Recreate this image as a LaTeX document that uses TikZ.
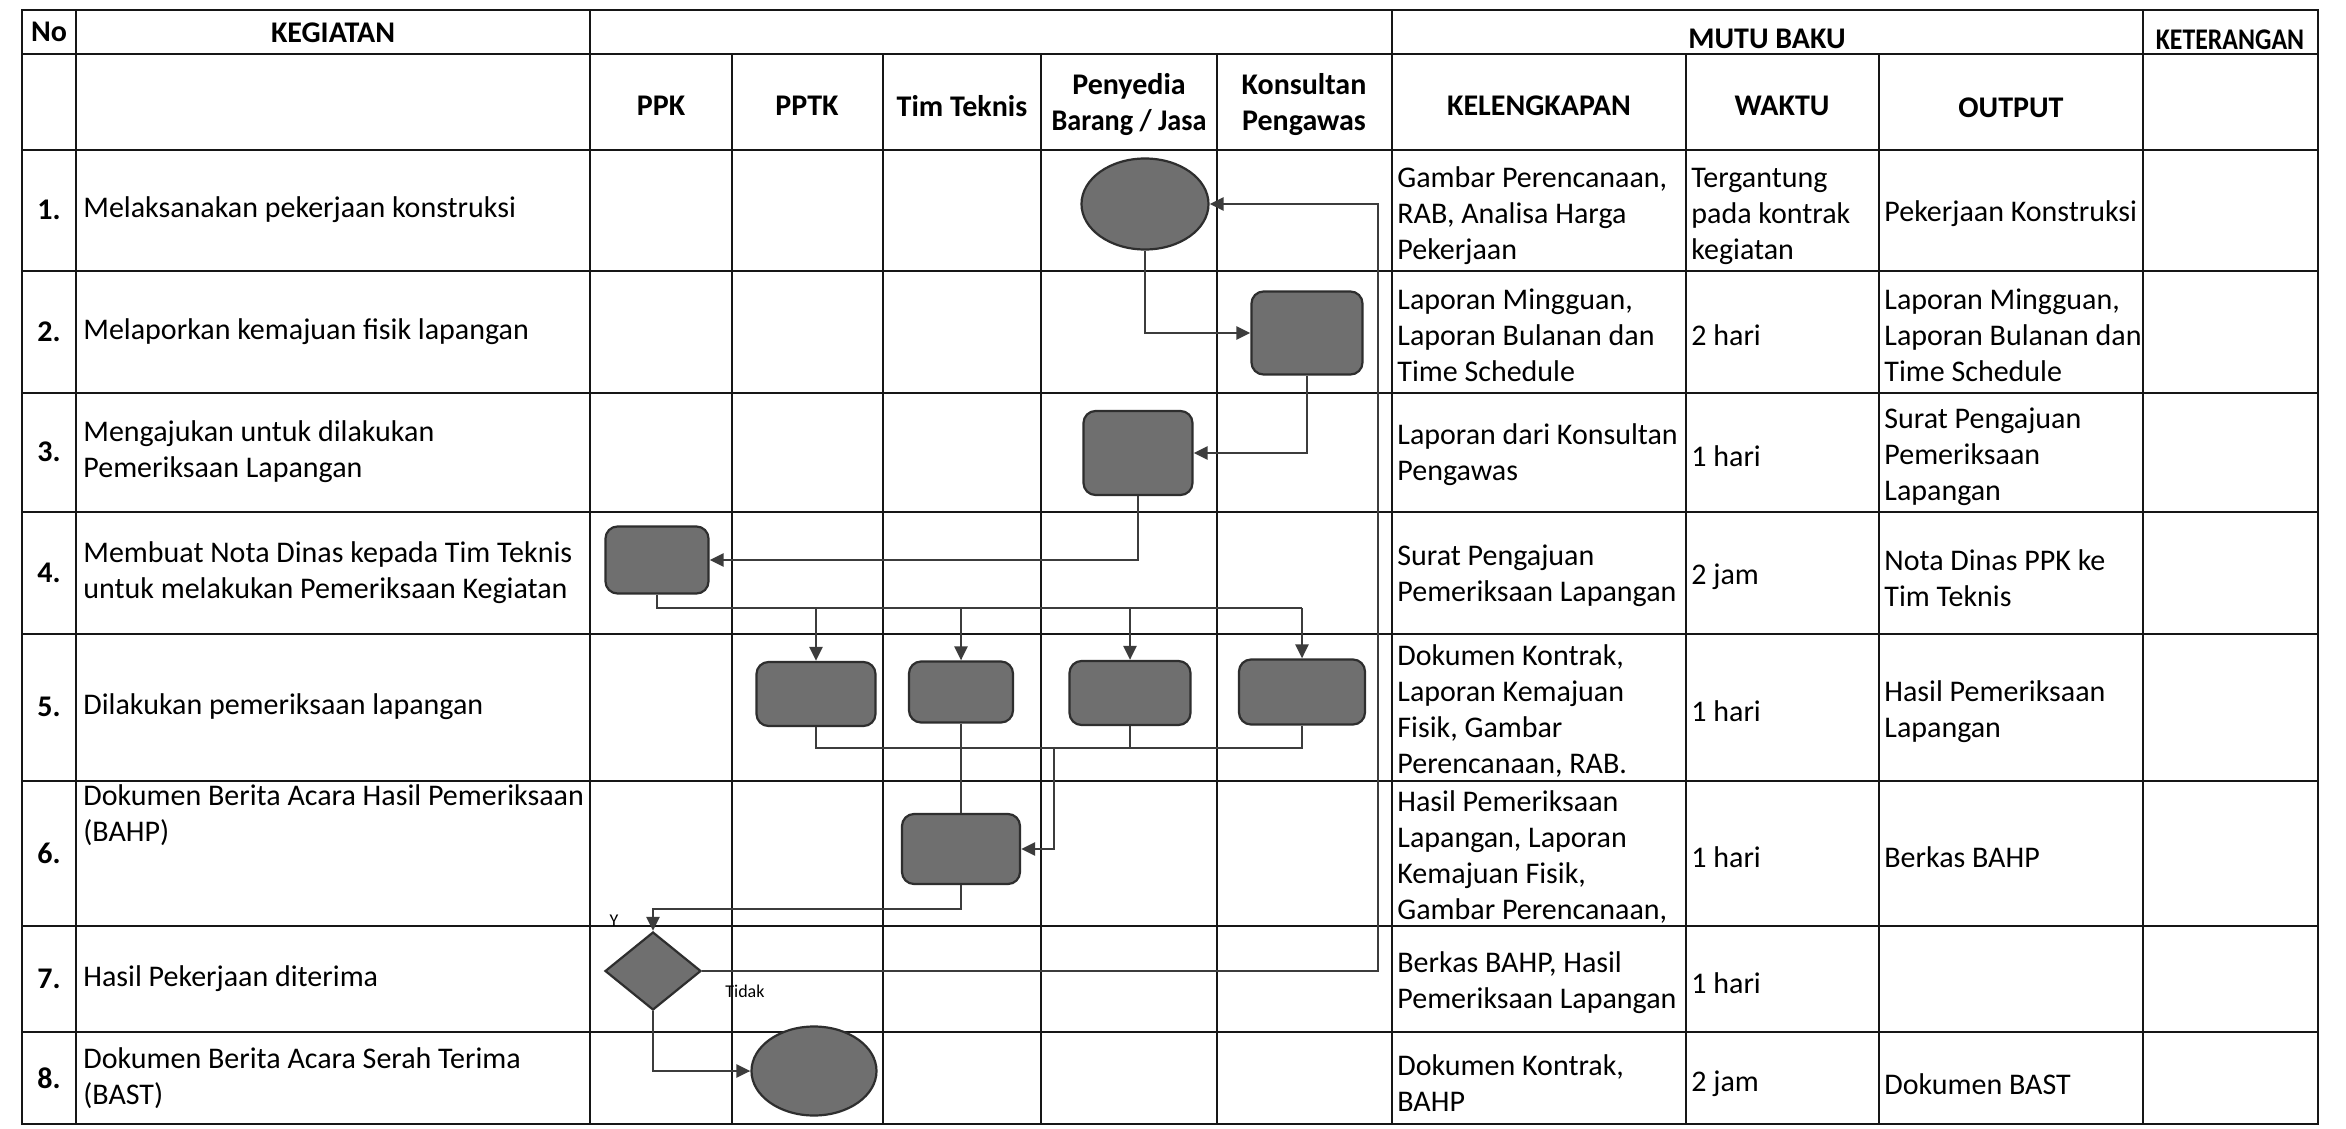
\documentclass[tikz,border=0pt]{standalone}
\usepackage{fontspec}
\setmainfont{Carlito}
\usetikzlibrary{shapes.geometric,arrows.meta}
\definecolor{shapefill}{HTML}{6F6F6F}
\definecolor{shapeline}{HTML}{2E2E2E}
\definecolor{linecol}{HTML}{3C3C3C}
\definecolor{gridcol}{HTML}{161616}
\begin{document}
\begin{tikzpicture}[x=0.5pt,y=-0.5pt,
  grid/.style={draw=gridcol,line width=1.3pt,line cap=rect},
  proc/.style={draw=shapeline,fill=shapefill,line width=1.1pt,rounded corners=6pt,inner sep=0pt},
  term/.style={ellipse,draw=shapeline,fill=shapefill,line width=1.1pt,inner sep=0pt},
  dec/.style={diamond,draw=shapeline,fill=shapefill,line width=1.1pt,inner sep=0pt},
  conn/.style={draw=linecol,line width=1.3pt},
  arr/.style={conn,-{Triangle[length=7pt,width=6.5pt]}},
  hd/.style={font=\fontsize{15pt}{18pt}\selectfont\bfseries,align=center,inner sep=0pt},
  num/.style={font=\fontsize{15pt}{18pt}\selectfont\bfseries,inner sep=0pt},
  txt/.style={font=\fontsize{15pt}{18pt}\selectfont,align=left,anchor=west,inner sep=0pt},
  small/.style={font=\fontsize{9pt}{10pt}\selectfont,inner sep=0pt}
]
\useasboundingbox (0,0) rectangle (2346,1129);
\fill[white] (0,0) rectangle (2346,1129);
% ---------- table grid ----------
\foreach \y in {10,54,150,271,393,512,634,781,926,1032,1124}
  \draw[grid] (22,\y) -- (2318,\y);
\foreach \x in {22,76,590,1392,2143,2318}
  \draw[grid] (\x,10) -- (\x,1124);
\foreach \x in {732,883,1041,1217,1686,1879}
  \draw[grid] (\x,54) -- (\x,1124);
% ---------- headers ----------
\node[hd] (hNo) at (49,32) {No};
\node[hd] (hKeg) at (333,33) {KEGIATAN};
\node[hd] (hMutu) at (1767,39) {MUTU BAKU};
\node[hd] (hKet) at (2230,40) {\scalebox{0.86}[1]{KETERANGAN}};
\node[hd] (hPPK) at (661,106) {PPK};
\node[hd] (hPPTK) at (807,106) {PPTK};
\node[hd] (hTim) at (962,106) {Tim Teknis};
\node[hd] (hPeny) at (1129,105) {Penyedia\\\scalebox{0.94}[1]{Barang / Jasa}};
\node[hd] (hKons) at (1304,105) {Konsultan\\Pengawas};
\node[hd] (hKel) at (1539,106) {KELENGKAPAN};
\node[hd] (hWak) at (1782,106) {WAKTU};
\node[hd] (hOut) at (2011,108) {OUTPUT};
% ---------- numbers ----------
\node[num] (n1) at (49,210) {1.};
\node[num] (n2) at (49,332) {2.};
\node[num] (n3) at (49,452) {3.};
\node[num] (n4) at (49,573) {4.};
\node[num] (n5) at (49,707) {5.};
\node[num] (n6) at (49,853) {6.};
\node[num] (n7) at (49,979) {7.};
\node[num] (n8) at (49,1078) {8.};
% ---------- kegiatan ----------
\node[txt] (k1) at (83,210) {Melaksanakan pekerjaan konstruksi};
\node[txt] (k2) at (83,332) {Melaporkan kemajuan fisik lapangan};
\node[txt] (k3) at (83,452) {Mengajukan untuk dilakukan\\Pemeriksaan Lapangan};
\node[txt] (k4) at (83,573) {Membuat Nota Dinas kepada Tim Teknis\\untuk melakukan Pemeriksaan Kegiatan};
\node[txt] (k5) at (83,707) {Dilakukan pemeriksaan lapangan};
\node[txt] (k6) at (83,815) {Dokumen Berita Acara Hasil Pemeriksaan\\(BAHP)};
\node[txt] (k7) at (83,979) {Hasil Pekerjaan diterima};
\node[txt] (k8) at (83,1078) {Dokumen Berita Acara Serah Terima\\(BAST)};
% ---------- kelengkapan ----------
\node[txt] (l1) at (1397,216) {Gambar Perencanaan,\\RAB, Analisa Harga\\Pekerjaan};
\node[txt] (l2) at (1397,335) {Laporan Mingguan,\\Laporan Bulanan dan\\Time Schedule};
\node[txt] (l3) at (1397,455) {Laporan dari Konsultan\\Pengawas};
\node[txt] (l4) at (1397,576) {Surat Pengajuan\\Pemeriksaan Lapangan};
\node[txt] (l5) at (1397,711) {Dokumen Kontrak,\\Laporan Kemajuan\\Fisik, Gambar\\Perencanaan, RAB.};
\node[txt] (l6) at (1397,857) {Hasil Pemeriksaan\\Lapangan, Laporan\\Kemajuan Fisik,\\Gambar Perencanaan,};
\node[txt] (l7) at (1397,983) {Berkas BAHP, Hasil\\Pemeriksaan Lapangan};
\node[txt] (l8) at (1397,1083) {Dokumen Kontrak,\\BAHP};
% ---------- waktu ----------
\node[txt] (w1) at (1691,216) {Tergantung\\pada kontrak\\kegiatan};
\node[txt] (w2) at (1691,335) {2 hari};
\node[txt] (w3) at (1691,456) {1 hari};
\node[txt] (w4) at (1691,577) {2 jam};
\node[txt] (w5) at (1691,711) {1 hari};
\node[txt] (w6) at (1691,857) {1 hari};
\node[txt] (w7) at (1691,983) {1 hari};
\node[txt] (w8) at (1691,1084) {2 jam};
% ---------- output ----------
\node[txt] (o1) at (1884,214) {Pekerjaan Konstruksi};
\node[txt] (o2) at (1884,335) {Laporan Mingguan,\\Laporan Bulanan dan\\Time Schedule};
\node[txt] (o3) at (1884,457) {Surat Pengajuan\\Pemeriksaan\\Lapangan};
\node[txt] (o4) at (1884,578) {Nota Dinas PPK ke\\Tim Teknis};
\node[txt] (o5) at (1884,712) {Hasil Pemeriksaan\\Lapangan};
\node[txt] (o6) at (1884,857) {Berkas BAHP};
\node[txt] (o8) at (1884,1084) {Dokumen BAST};
% ---------- flow shapes ----------
\node[term,minimum width=63.5pt,minimum height=45.5pt] (E1) at (1145,204) {};
\node[proc,minimum width=55.5pt,minimum height=41.5pt] (B2) at (1307,333) {};
\node[proc,minimum width=54.5pt,minimum height=42pt] (B3) at (1138,453) {};
\node[proc,minimum width=51.5pt,minimum height=33.5pt] (B4) at (657,560) {};
\node[proc,minimum width=59.5pt,minimum height=32pt] (B5a) at (816,694) {};
\node[proc,minimum width=52pt,minimum height=30.5pt] (B5b) at (961,692) {};
\node[proc,minimum width=60.5pt,minimum height=32pt] (B5c) at (1130,693) {};
\node[proc,minimum width=63pt,minimum height=32.5pt] (B5d) at (1302,692) {};
\node[proc,minimum width=59pt,minimum height=35pt] (B6) at (961,849) {};
\node[dec,minimum width=48pt,minimum height=39pt] (D7) at (653,971) {};
\node[term,minimum width=62.5pt,minimum height=44.5pt] (E8) at (814,1071) {};
% ---------- helper coordinates ----------
\coordinate (bus) at (0,608);
\coordinate (col) at (0,748);
\coordinate (mergept) at (1054,748);
\coordinate (turn) at (0,909);
\coordinate (loop) at (1378,0);
% ---------- connectors ----------
\draw[arr] (E1.south) |- (B2.west);
\draw[arr] (B2.south) |- (B3.east);
\draw[arr] (B3.south) |- (B4.east);
\draw[conn] (B4.south) -- (B4.south |- bus) -- (B5d.north |- bus);
\draw[arr] (B5a.north |- bus) -- (B5a.north);
\draw[arr] (B5b.north |- bus) -- (B5b.north);
\draw[arr] (B5c.north |- bus) -- (B5c.north);
\draw[arr] (B5d.north |- bus) -- (B5d.north);
\draw[conn] (B5a.south) -- (B5a.south |- col) -- (B5d.south |- col) -- (B5d.south);
\draw[conn] (B5c.south) -- (B5c.south |- col);
\draw[conn] (B5b.south) -- (B6.north);
\draw[arr] (mergept) |- (B6.east);
\draw[arr] (B6.south) -- (B6.south |- turn) -| (D7.north);
\draw[arr] (D7.east) -- (loop |- D7.east) -- (loop |- E1.east) -- (E1.east);
\draw[arr] (D7.south) |- (E8.west);
% ---------- labels ----------
\node[small] (ylab) at (614,921) {Y};
\node[small,anchor=west] (tidak) at (725,991) {Tidak};
\end{tikzpicture}
\end{document}
